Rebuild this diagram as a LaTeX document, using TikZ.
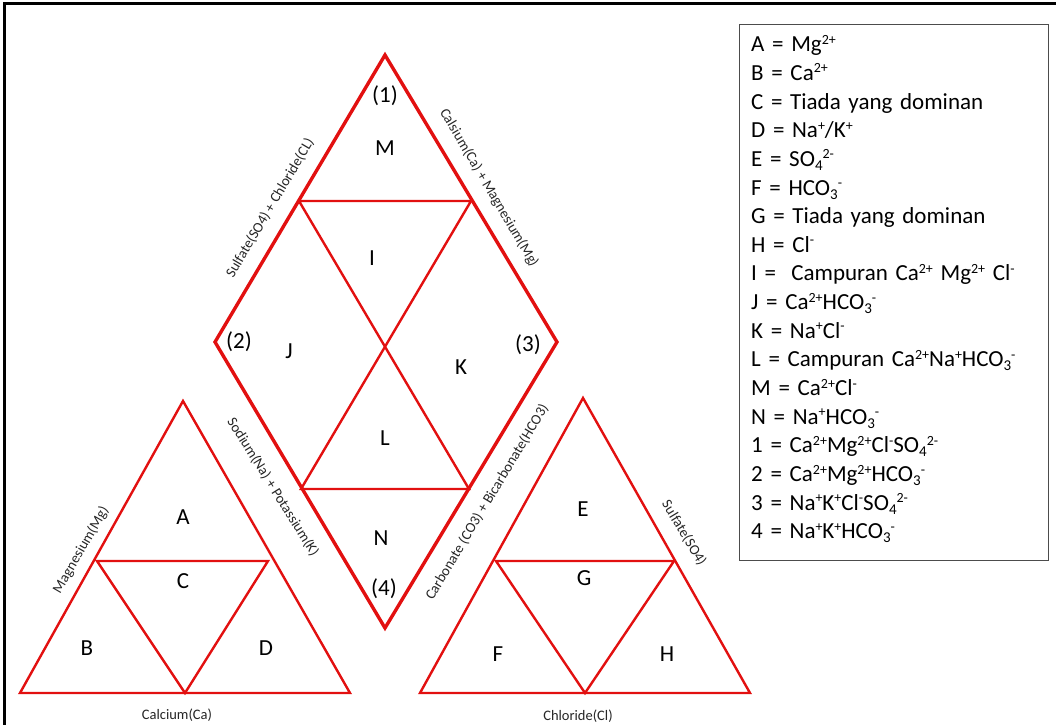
\documentclass[tikz,border=0pt]{standalone}
\usepackage{fontspec}
\setmainfont{Carlito}
\definecolor{piperred}{RGB}{226,16,16}
\newcommand{\supr}[1]{\raisebox{7.5pt}{\fontsize{14}{14}\selectfont #1}}
\newcommand{\subr}[1]{\raisebox{-4pt}{\fontsize{15}{15}\selectfont #1}}

\begin{document}
\begin{tikzpicture}[x=1pt, y=-1pt,
  field/.style={font=\fontsize{23}{28}\selectfont, inner sep=1pt},
  axislabel/.style={font=\fontsize{14.5}{17}\selectfont, text=black!85, inner sep=0pt},
  outline/.style={draw=piperred, line width=3.4pt, line join=miter},
  divide/.style={draw=piperred, line width=2.4pt, line join=miter},
  legendbox/.style={draw=black!70, line width=1.4pt, anchor=north west,
    minimum width=309pt, minimum height=536pt},
  legendtext/.style={anchor=north west, inner sep=0pt, text width=290pt,
    align=left, font=\fontsize{23}{28.65}\selectfont}
]
  \useasboundingbox (0,0) rectangle (1056,725);
  \draw[line width=3pt] (1056,4) -- (4,4) -- (4,725);

  \coordinate (top)    at (385,55);
  \coordinate (left)   at (215,342);
  \coordinate (right)  at (557,342);
  \coordinate (bottom) at (385,628);
  \coordinate (ul) at (299,201);
  \coordinate (ur) at (471,201);
  \coordinate (ll) at (301,489);
  \coordinate (lr) at (469,489);

  \coordinate (catop) at (183,401);
  \coordinate (cabl)  at (20,693);
  \coordinate (cabr)  at (350,693);
  \coordinate (caml)  at (97,561);
  \coordinate (camr)  at (268,561);
  \coordinate (cabm)  at (185,693);

  \coordinate (antop) at (583,398);
  \coordinate (anbl)  at (420,693);
  \coordinate (anbr)  at (750,693);
  \coordinate (anml)  at (496,561);
  \coordinate (anmr)  at (674,561);
  \coordinate (anbm)  at (585,693);

  \draw[divide] (ul) -- (ur) -- (ll) -- (lr) -- (ul) -- cycle;
  \draw[outline] (top) -- (right) -- (bottom) -- (left) -- cycle;

  \draw[divide] (catop) -- (cabr) -- (cabl) -- cycle;
  \draw[divide] (caml) -- (camr) -- (cabm) -- cycle;
  \draw[divide] (antop) -- (anbr) -- (anbl) -- cycle;
  \draw[divide] (anml) -- (anmr) -- (anbm) -- cycle;

  \node[field] (p1) at (385,96)  {(1)};
  \node[field] (p2) at (239,342) {(2)};
  \node[field] (p3) at (528,345) {(3)};
  \node[field] (p4) at (384,589) {(4)};
  \node[field] (fM) at (385,148) {M};
  \node[field] (fI) at (372,258) {I};
  \node[field] (fJ) at (289,351) {J};
  \node[field] (fK) at (461,367) {K};
  \node[field] (fL) at (385,438) {L};
  \node[field] (fN) at (381,538) {N};

  \node[field] (fA) at (183,517) {A};
  \node[field] (fB) at (87,648)  {B};
  \node[field] (fC) at (183,581) {C};
  \node[field] (fD) at (266,648) {D};
  \node[field] (fE) at (583,509) {E};
  \node[field] (fF) at (498,654) {F};
  \node[field] (fG) at (584,578) {G};
  \node[field] (fH) at (667,654) {H};

  \node[axislabel, rotate=59.4]  (sc) at (270,208) {Sulfate(SO4) + Chloride(CL)};
  \node[axislabel, rotate=-59.4] (cm) at (489,188) {Calsium(Ca) + Magnesium(Mg)};
  \node[axislabel, rotate=-58]   (nk) at (273,487) {Sodium(Na) + Potassium(K)};
  \node[axislabel, rotate=59]    (cb) at (487,502) {Carbonate (CO3) + Bicarbonate(HCO3)};
  \node[axislabel, rotate=60]    (mg) at (81,550)  {Magnesium(Mg)};
  \node[axislabel, rotate=-59]   (so) at (684,533) {Sulfate(SO4)};
  \node[axislabel] (ca) at (177,715) {Calcium(Ca)};
  \node[axislabel] (cl) at (578,716) {Chloride(Cl)};

  \node[legendbox] (legend) at (739,24) {};
  \node[legendtext] (legendlines) at (751,35) {
    A = Mg\supr{2+}\\
    B = Ca\supr{2+}\\
    C = Tiada yang dominan\\
    D = Na\supr{+}/K\supr{+}\\
    E = SO\subr{4}\supr{2-}\\
    F = HCO\subr{3}\supr{-}\\
    G = Tiada yang dominan\\
    H = Cl\supr{-}\\
    I =~ Campuran Ca\supr{2+} Mg\supr{2+} Cl\supr{-}\\
    J = Ca\supr{2+}HCO\subr{3}\supr{-}\\
    K = Na\supr{+}Cl\supr{-}\\
    L = Campuran Ca\supr{2+}Na\supr{+}HCO\subr{3}\supr{-}\\
    M = Ca\supr{2+}Cl\supr{-}\\
    N = Na\supr{+}HCO\subr{3}\supr{-}\\
    1 = Ca\supr{2+}Mg\supr{2+}Cl\supr{-}SO\subr{4}\supr{2-}\\
    2 = Ca\supr{2+}Mg\supr{2+}HCO\subr{3}\supr{-}\\
    3 = Na\supr{+}K\supr{+}Cl\supr{-}SO\subr{4}\supr{2-}\\
    4 = Na\supr{+}K\supr{+}HCO\subr{3}\supr{-}};
\end{tikzpicture}
\end{document}
